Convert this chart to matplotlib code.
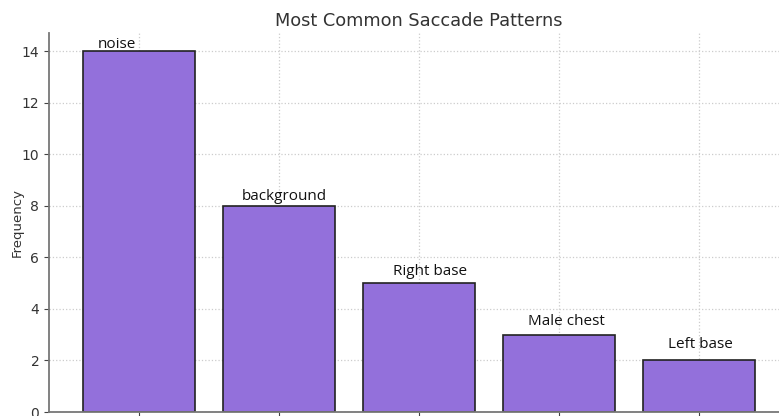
import matplotlib.pyplot as plt

# Saccade pattern counts
patterns = ["noise", "background", "Right base", "Male chest", "Left base"]
counts = [14, 8, 5, 3, 2]

# small hand nudges for the bar captions (x in data units, y in points)
label_dx = [-0.16, 0.04, 0.08, 0.05, 0.01]
label_dy = [-1, 1, 3, 4, 6]

fig = plt.figure(figsize=(7.79, 4.16), dpi=100)
# axes run past the right and bottom edges of the canvas
ax = fig.add_axes([49 / 779, 4 / 416, 740 / 779, 379 / 416])

x = range(len(patterns))
ax.bar(x, counts, width=0.8, color="#9370DB", edgecolor="#222222", linewidth=1.2, zorder=2)

for i, (name, c) in enumerate(zip(patterns, counts)):
    ax.annotate(name, (i + label_dx[i], c), xytext=(0, label_dy[i]), textcoords="offset points",
                ha="center", va="bottom", fontsize=11, family="Open Sans", color="#111111", zorder=3)

ax.set_xlim(-0.643, 4.643)
ax.set_ylim(0, 14.7)
ax.set_xticks(list(x))
ax.set_xticklabels([])
ax.set_yticks(range(0, 15, 2))
ax.tick_params(axis="y", labelsize=10, colors="#444444", labelcolor="#333333")
ax.tick_params(axis="x", colors="#444444")
ax.grid(True, linestyle=":", color="#cccccc", linewidth=0.9, zorder=0)
ax.set_axisbelow(True)

for side in ["top", "right"]:
    ax.spines[side].set_visible(False)
for side in ["left", "bottom"]:
    ax.spines[side].set_color("#777777")
    ax.spines[side].set_linewidth(1.3)

ax.set_ylabel("Frequency", fontsize=9.5, color="#333333")
ax.yaxis.set_label_coords(-25 / 740, 0.5)
ax.set_title("Most Common Saccade Patterns", fontsize=12.8, color="#333333", pad=5)

fig.savefig("out.png", dpi=100)
